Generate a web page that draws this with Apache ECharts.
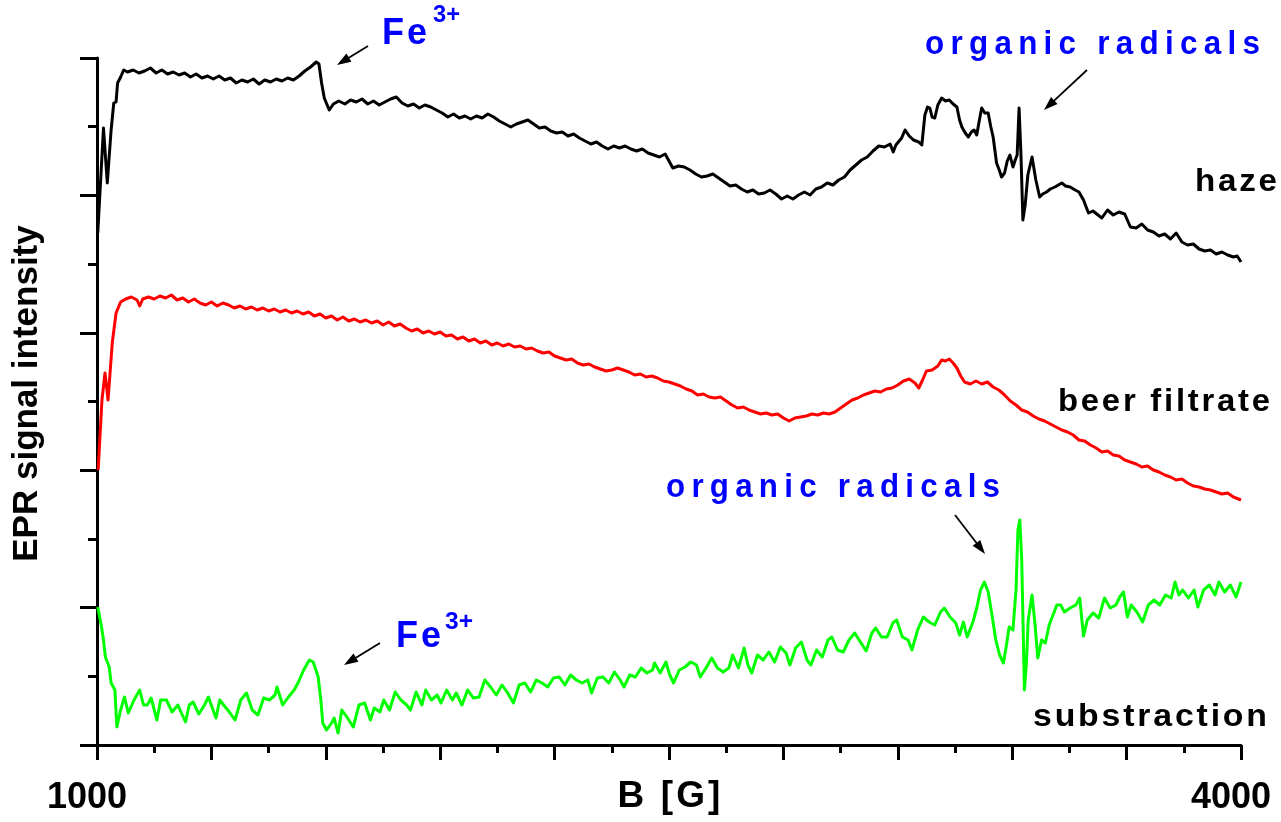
<!DOCTYPE html>
<html>
<head>
<meta charset="utf-8">
<script src="https://cdn.jsdelivr.net/npm/echarts@6/dist/echarts.min.js"></script>
<style>
html,body{margin:0;padding:0;background:#fff;}
#main{width:1281px;height:822px;}
</style>
</head>
<body>
<div id="main"></div>
<script>
// magnetic field B [G] and EPR signal (arbitrary units) for each trace
var hazeField = [
	1002,1017,1027,1037,1044,1050,1054,1062,1070,1080,
	1095,1110,1125,1140,1155,1170,1185,1200,1215,1230,
	1245,1260,1275,1290,1305,1320,1335,1350,1365,1380,
	1395,1410,1425,1440,1455,1470,1485,1500,1515,1530,
	1545,1560,1575,1582,1589,1596,1609,1620,1634,1650,
	1665,1680,1695,1710,1725,1740,1755,1770,1785,1800,
	1815,1830,1845,1860,1875,1890,1905,1920,1935,1950,
	1965,1980,1995,2010,2025,2040,2055,2070,2085,2100,
	2115,2130,2145,2160,2175,2190,2205,2220,2235,2250,
	2265,2280,2295,2310,2325,2340,2355,2370,2385,2400,
	2415,2430,2445,2460,2475,2490,2510,2525,2540,2555,
	2570,2585,2600,2615,2630,2645,2660,2675,2690,2705,
	2720,2735,2750,2765,2780,2795,2810,2825,2840,2855,
	2870,2885,2900,2915,2930,2945,2960,2975,2990,3005,
	3020,3035,3050,3065,3080,3088,3095,3110,3119,3130,
	3141,3155,3163,3171,3178,3184,3190,3197,3205,3215,
	3225,3235,3245,3255,3262,3268,3277,3285,3293,3300,
	3307,3314,3320,3328,3337,3344,3350,3359,3366,3372,
	3380,3387,3394,3402,3408,3413,3418,3423,3428,3434,
	3441,3452,3462,3472,3480,3490,3500,3512,3530,3540,
	3552,3565,3575,3587,3600,3612,3625,3635,3650,3665,
	3680,3695,3710,3725,3740,3755,3770,3785,3800,3815,
	3830,3845,3860,3875,3890,3905,3920,3935,3950,3965,
	3980,3990,4000
];
var hazeSignal = [
	512,617,562,615,642,643,662,668,675,673,
	675,672,674,677,672,675,671,673,670,672,
	668,671,667,669,666,669,665,667,662,665,
	663,666,661,665,663,666,664,667,665,669,
	674,678,683,681,662,647,635,641,644,641,
	645,643,646,641,644,640,643,646,648,642,
	639,641,637,640,638,635,632,628,631,627,
	629,626,629,627,631,628,624,621,618,621,
	623,625,621,617,618,614,612,613,609,611,
	607,604,601,603,599,596,599,597,599,596,
	594,596,592,590,588,591,577,579,578,575,
	571,568,569,571,567,563,559,560,556,553,
	555,551,552,555,551,546,549,546,550,553,
	550,556,558,562,560,565,568,575,580,585,
	588,594,599,598,601,593,600,607,615,609,
	605,603,600,630,638,637,628,627,640,647,
	644,645,641,638,625,618,612,608,613,615,
	610,625,637,632,632,618,608,582,575,568,
	572,584,590,578,585,590,637,590,525,540,
	570,588,565,548,551,553,556,558,562,559,
	558,555,553,545,532,534,530,527,535,530,
	533,531,518,517,521,515,513,509,511,506,
	512,503,500,501,496,494,495,491,493,490,
	488,489,483
];

var beerField = [
	1003,1013,1021,1029,1040,1050,1062,1075,1090,1105,
	1112,1120,1135,1150,1165,1180,1195,1210,1225,1240,
	1255,1270,1285,1300,1315,1330,1345,1360,1375,1390,
	1405,1420,1435,1450,1465,1480,1495,1510,1525,1540,
	1555,1570,1585,1600,1615,1630,1645,1660,1675,1690,
	1705,1720,1735,1750,1765,1780,1795,1810,1825,1840,
	1855,1870,1885,1900,1915,1930,1945,1960,1975,1990,
	2005,2020,2035,2050,2065,2080,2095,2110,2125,2140,
	2155,2170,2185,2200,2215,2230,2245,2260,2275,2290,
	2305,2320,2335,2350,2365,2380,2395,2410,2425,2440,
	2455,2470,2485,2500,2515,2530,2545,2560,2575,2590,
	2605,2620,2635,2650,2665,2680,2695,2710,2725,2740,
	2755,2770,2785,2800,2815,2830,2845,2860,2875,2890,
	2905,2920,2935,2950,2965,2980,2995,3010,3025,3040,
	3055,3070,3085,3100,3115,3130,3145,3155,3165,3175,
	3190,3205,3215,3225,3235,3245,3255,3265,3275,3290,
	3305,3320,3335,3350,3365,3380,3395,3410,3425,3440,
	3455,3470,3485,3500,3515,3530,3545,3560,3575,3590,
	3605,3620,3635,3650,3665,3680,3695,3710,3725,3740,
	3755,3770,3785,3800,3815,3830,3845,3860,3875,3890,
	3905,3920,3935,3950,3965,3980,4000
];
var beerSignal = [
	275,345,372,345,402,432,443,446,448,445,
	439,446,448,446,449,447,450,445,447,443,
	446,442,440,443,439,442,440,437,439,436,
	438,435,437,434,436,433,435,432,434,431,
	433,429,431,427,429,425,428,424,426,423,
	425,422,424,420,423,419,421,417,414,416,
	412,414,411,413,409,410,406,408,404,406,
	402,404,400,402,399,401,398,399,396,397,
	394,392,393,389,387,385,386,382,380,381,
	378,376,374,375,377,375,373,370,371,368,
	369,367,364,363,361,359,356,354,350,351,
	348,347,348,344,340,337,338,335,333,331,
	332,330,331,327,324,327,328,329,331,330,
	332,331,333,337,341,345,347,350,352,354,
	353,356,357,360,364,366,362,357,365,374,
	375,379,385,384,386,382,377,369,363,361,
	364,361,363,358,355,350,344,340,335,333,
	329,326,324,321,318,315,313,310,305,304,
	300,297,293,294,290,289,285,283,281,278,
	279,275,273,270,268,265,266,262,259,258,
	256,255,253,251,252,248,245
];

var subField = [
	1002,1011,1017,1022,1032,1037,1047,1052,1062,1072,
	1082,1097,1112,1122,1132,1142,1157,1167,1182,1197,
	1212,1232,1242,1252,1267,1282,1292,1312,1322,1332,
	1347,1362,1377,1392,1407,1422,1437,1452,1467,1472,
	1487,1502,1517,1527,1542,1557,1567,1572,1580,1587,
	1592,1602,1607,1617,1622,1632,1642,1657,1672,1687,
	1702,1717,1727,1742,1752,1767,1782,1797,1812,1822,
	1837,1852,1862,1877,1892,1902,1917,1932,1942,1957,
	1972,1987,2002,2017,2032,2047,2062,2077,2092,2107,
	2122,2137,2152,2167,2182,2197,2212,2227,2242,2257,
	2272,2287,2297,2312,2327,2342,2357,2372,2382,2397,
	2412,2427,2442,2457,2462,2477,2492,2502,2512,2527,
	2542,2557,2572,2582,2597,2612,2627,2642,2657,2667,
	2682,2697,2707,2717,2732,2747,2762,2777,2792,2807,
	2817,2832,2847,2862,2872,2887,2902,2917,2927,2942,
	2957,2972,2987,3002,3017,3032,3042,3057,3072,3087,
	3097,3112,3127,3137,3152,3167,3182,3197,3212,3222,
	3237,3252,3262,3272,3282,3297,3307,3317,3327,3337,
	3347,3357,3367,3377,3385,3392,3402,3410,3415,3420,
	3425,3432,3437,3442,3452,3460,3467,3477,3487,3497,
	3507,3517,3527,3537,3552,3567,3577,3587,3597,3612,
	3627,3642,3657,3672,3682,3692,3702,3712,3727,3742,
	3757,3772,3787,3802,3817,3827,3837,3847,3862,3877,
	3887,3902,3917,3932,3942,3957,3972,3987,4000
];
var subSignal = [
	138,120,105,88,78,62,55,18,35,48,
	32,45,55,40,40,47,25,45,45,33,
	40,23,40,43,31,40,48,27,45,40,
	33,25,45,52,35,30,47,45,50,58,
	40,48,55,62,75,85,83,85,68,45,
	22,15,13,23,27,12,35,27,18,40,
	42,25,37,33,45,35,53,45,40,35,
	53,40,55,45,50,42,55,45,52,40,
	55,47,48,65,58,50,60,52,42,60,
	62,53,65,62,58,67,68,60,70,65,
	62,65,52,67,68,62,73,65,58,70,
	68,77,72,75,82,72,83,70,62,75,
	78,83,80,68,77,87,77,73,77,90,
	77,97,80,72,90,85,93,83,98,92,
	80,97,103,85,80,95,88,105,108,95,
	93,105,112,103,94,112,117,108,108,122,
	125,108,105,95,115,128,123,120,133,137,
	128,122,110,123,108,123,137,155,163,153,
	130,105,90,82,100,118,115,155,215,225,
	185,55,80,125,150,120,87,105,102,120,
	130,140,140,133,137,140,147,109,125,132,
	127,147,137,140,148,153,128,140,133,123,
	140,145,140,150,147,163,150,155,147,155,
	138,155,160,150,163,153,160,148,163
];

var xTickLabels = [1000, 4000];

var FONT = '"Liberation Sans", Arial, sans-serif';
var BLUE = '#0000ff';
var THIN = '\u2009';
var HAIR = '\u200A';

function pairs(xs, ys) {
	var out = [];
	for (var i = 0; i < xs.length; i++) {
		out.push([xs[i], ys[i]]);
	}
	return out;
}

// canvas text has no letter-spacing: put small spaces between letters
function spaced(s, ch) {
	return s.split('').join(ch);
}

var measureCtx = document.createElement('canvas').getContext('2d');

// text squeezed/stretched horizontally so it covers the given width
function label(x, y, text, size, color, width) {
	var font = 'bold ' + size + 'px ' + FONT;
	measureCtx.font = font;
	var sx = width / measureCtx.measureText(text).width;
	return {
		type: 'text', x: x, y: y, scaleX: sx, silent: true,
		style: {
			text: text, fill: color, font: font,
			align: 'left', verticalAlign: 'middle',
			textAlign: 'left', textVerticalAlign: 'middle'
		}
	};
}

function arrow(x1, y1, x2, y2) {
	var dx = x2 - x1, dy = y2 - y1;
	var len = Math.sqrt(dx * dx + dy * dy);
	var ux = dx / len, uy = dy / len;
	var hl = 14, hw = 4.8;
	var bx = x2 - ux * hl, by = y2 - uy * hl;
	return [
		{type: 'line', silent: true, shape: {x1: x1, y1: y1, x2: bx + ux * 2, y2: by + uy * 2}, style: {stroke: '#000', lineWidth: 1.8}},
		{type: 'polygon', silent: true, shape: {points: [[x2, y2], [bx - uy * hw, by + ux * hw], [bx + uy * hw, by - ux * hw]]}, style: {fill: '#000'}}
	];
}

function traceSeries(name, data, color) {
	return {
		name: name,
		type: 'line',
		data: data,
		symbol: 'none',
		showSymbol: false,
		clip: true,
		lineStyle: {color: color, width: 3, join: 'round'},
		itemStyle: {color: color},
		z: 3
	};
}

var graphics = []
	.concat(arrow(368, 46, 337, 65))
	.concat(arrow(1087, 70, 1044, 110))
	.concat(arrow(955, 515, 985, 554))
	.concat(arrow(380, 643, 344, 665));
graphics.push(label(382, 34, spaced('Fe', HAIR), 36, BLUE, 45));
graphics.push(label(433, 15, '3+', 24, BLUE, 27));
graphics.push(label(396, 637, spaced('Fe', HAIR), 36, BLUE, 45));
graphics.push(label(445, 622, '3+', 24, BLUE, 28));
graphics.push(label(925, 45, spaced('organic radicals', THIN), 33, BLUE, 335));
graphics.push(label(666, 488, spaced('organic radicals', THIN), 33, BLUE, 334));
graphics.push(label(1195, 182, spaced('haze', HAIR), 32, '#000', 82));
graphics.push(label(1058, 402, spaced('beer filtrate', HAIR), 32, '#000', 212));
graphics.push(label(1033, 717, spaced('substraction', HAIR), 32, '#000', 234));

var myChart = echarts.init(document.getElementById('main'), null, {renderer: 'canvas'});
var option = {
	animation: false,
	backgroundColor: '#fff',
	grid: {left: 97, right: 40, top: 58, bottom: 77, containLabel: false, outerBoundsMode: 'none'},
	xAxis: {
		type: 'value',
		min: 1000,
		max: 4000,
		interval: 300,
		name: spaced('B [G]', HAIR),
		nameLocation: 'middle',
		nameGap: 33,
		nameMoveOverlap: false,
		nameTextStyle: {fontFamily: FONT, fontWeight: 'bold', fontSize: 37, color: '#000'},
		axisLine: {onZero: false, lineStyle: {color: '#000', width: 3}},
		axisTick: {length: 15, lineStyle: {color: '#000', width: 3}},
		minorTick: {show: true, splitNumber: 2, length: 8, lineStyle: {color: '#000', width: 3}},
		splitLine: {show: false},
		axisLabel: {
			showMinLabel: true, showMaxLabel: true,
			margin: 35,
			padding: [0, 20, 0, 0],
			fontFamily: FONT, fontWeight: 'bold', fontSize: 36, color: '#000',
			formatter: function(v) {
				return xTickLabels.indexOf(v) >= 0 ? String(v) : '';
			}
		}
	},
	yAxis: {
		type: 'value',
		min: 0,
		max: 687,
		interval: 137.4,
		name: 'EPR signal intensity',
		nameLocation: 'middle',
		nameGap: 52,
		nameMoveOverlap: false,
		nameTextStyle: {fontFamily: FONT, fontWeight: 'bold', fontSize: 35, color: '#000', padding: [0, 0, 0, 16]},
		axisLine: {show: true, lineStyle: {color: '#000', width: 3}},
		axisTick: {show: true, length: 17, lineStyle: {color: '#000', width: 3}},
		minorTick: {show: true, splitNumber: 2, length: 9, lineStyle: {color: '#000', width: 3}},
		splitLine: {show: false},
		axisLabel: {show: false}
	},
	graphic: graphics,
	series: [
		traceSeries('haze', pairs(hazeField, hazeSignal), '#000000'),
		traceSeries('beer filtrate', pairs(beerField, beerSignal), '#ff0000'),
		traceSeries('substraction', pairs(subField, subSignal), '#00ff00')
	]
};
myChart.setOption(option);
</script>
</body>
</html>
